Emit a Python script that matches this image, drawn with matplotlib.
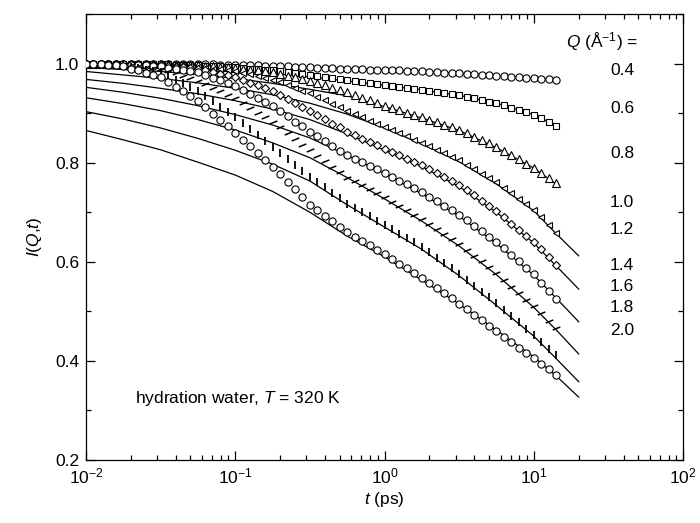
import matplotlib
matplotlib.use("Agg")
import matplotlib.pyplot as plt
import numpy as np
from matplotlib.ticker import LogLocator, MultipleLocator, NullFormatter

plt.rcParams['font.family'] = ['Liberation Sans', 'DejaVu Sans']
plt.rcParams['mathtext.fontset'] = 'custom'
plt.rcParams['mathtext.rm'] = 'Liberation Sans'
plt.rcParams['mathtext.it'] = 'Liberation Sans:italic'

Q_labels = ["0.4", "0.6", "0.8", "1.0", "1.2", "1.4", "1.6", "1.8", "2.0"]

# time points of the simulated data (ps)
t_data = [0.0100, 0.0112, 0.0126, 0.0141, 0.0158, 0.0178, 0.0200, 0.0224, 0.0251, 0.0282,
          0.0316, 0.0355, 0.0398, 0.0447, 0.0501, 0.0562, 0.0631, 0.0708, 0.0794, 0.0891,
          0.100, 0.112, 0.126, 0.141, 0.158, 0.178, 0.200, 0.224, 0.251, 0.282,
          0.316, 0.355, 0.398, 0.447, 0.501, 0.562, 0.631, 0.708, 0.794, 0.891,
          1.00, 1.12, 1.26, 1.41, 1.58, 1.78, 2.00, 2.24, 2.51, 2.82,
          3.16, 3.55, 3.98, 4.47, 5.01, 5.62, 6.31, 7.08, 7.94, 8.91,
          10.0, 11.2, 12.6, 14.1]

d04 = [1.0, 1.0, 1.0, 1.0, 1.0, 1.0, 1.0, 1.0, 1.0, 1.0,
       1.0, 1.0, 1.0, .999, .999, .999, .999, .999, .998, .998,
       .998, .998, .997, .997, .996, .996, .995, .995, .994, .993,
       .993, .992, .992, .991, .990, .990, .989, .989, .988, .987,
       .987, .986, .986, .985, .985, .984, .983, .982, .981, .981,
       .980, .979, .978, .977, .976, .975, .974, .973, .972, .971,
       .970, .969, .968, .966]
d06 = [1.0, 1.0, 1.0, 1.0, 1.0, 1.0, 1.0, 1.0, .999, .999,
       .999, .999, .998, .998, .997, .997, .996, .995, .995, .994,
       .993, .992, .990, .989, .987, .986, .984, .982, .980, .979,
       .977, .975, .973, .970, .968, .966, .964, .962, .960, .958,
       .956, .954, .952, .951, .949, .947, .945, .943, .940, .938,
       .936, .933, .930, .927, .923, .920, .916, .911, .906, .902,
       .897, .890, .883, .875]
d08 = [1.0, 1.0, 1.0, 1.0, 1.0, 1.0, 1.0, 1.0, .999, .999,
       .999, .999, .998, .998, .997, .997, .996, .995, .994, .993,
       .992, .990, .988, .986, .984, .982, .979, .975, .972, .968,
       .965, .961, .956, .951, .947, .942, .937, .931, .926, .920,
       .915, .910, .906, .901, .897, .892, .887, .882, .876, .871,
       .866, .859, .852, .846, .839, .832, .824, .815, .807, .798,
       .790, .780, .769, .758]
d10 = [1.0, 1.0, 1.0, 1.0, 1.0, 1.0, 1.0, .999, .999, .998,
       .998, .997, .996, .996, .995, .994, .992, .990, .989, .987,
       .985, .981, .978, .974, .971, .967, .962, .956, .951, .945,
       .940, .933, .926, .919, .912, .905, .898, .892, .885, .879,
       .872, .866, .859, .853, .846, .840, .833, .826, .819, .812,
       .805, .796, .787, .778, .769, .760, .749, .738, .727, .716,
       .705, .690, .674, .659]
d12 = [1.0, 1.0, 1.0, 1.0, .999, .999, .999, .998, .998, .997,
       .997, .996, .994, .993, .991, .990, .986, .983, .979, .976,
       .972, .967, .961, .956, .950, .945, .937, .929, .921, .913,
       .905, .896, .888, .879, .871, .862, .855, .848, .842, .835,
       .828, .821, .815, .808, .802, .795, .787, .779, .771, .763,
       .755, .744, .734, .723, .713, .702, .690, .677, .665, .652,
       .640, .625, .609, .594]
d14 = [1.0, 1.0, 1.0, .999, .999, .999, .998, .997, .997, .996,
       .995, .992, .990, .987, .985, .982, .977, .971, .966, .960,
       .955, .947, .939, .931, .923, .915, .904, .894, .883, .873,
       .862, .853, .843, .834, .824, .815, .808, .801, .794, .787,
       .780, .772, .764, .756, .748, .740, .731, .722, .713, .704,
       .695, .684, .673, .662, .651, .640, .627, .614, .601, .588,
       .575, .558, .542, .525]
d16 = [1.0, 1.0, 1.0, .999, .999, .999, .997, .995, .994, .992,
       .990, .985, .980, .975, .970, .965, .958, .951, .944, .937,
       .930, .920, .911, .901, .892, .882, .871, .859, .848, .836,
       .825, .814, .803, .792, .781, .770, .762, .754, .746, .738,
       .730, .721, .712, .704, .695, .686, .676, .666, .656, .646,
       .636, .624, .612, .601, .589, .577, .564, .550, .537, .523,
       .510, .496, .481, .467]
d18 = [1.0, 1.0, .999, .999, .998, .997, .994, .991, .988, .985,
       .982, .975, .967, .960, .952, .945, .934, .924, .913, .903,
       .892, .880, .868, .856, .844, .832, .820, .808, .796, .784,
       .772, .761, .750, .739, .728, .717, .709, .700, .692, .683,
       .675, .666, .657, .648, .639, .630, .619, .608, .598, .587,
       .576, .564, .552, .540, .528, .516, .503, .490, .478, .465,
       .452, .439, .425, .412]
d20 = [1.0, 1.0, .999, .998, .997, .995, .990, .986, .981, .977,
       .972, .963, .953, .944, .934, .925, .912, .899, .886, .873,
       .860, .846, .833, .819, .806, .792, .777, .761, .746, .730,
       .715, .704, .693, .682, .671, .660, .651, .642, .633, .624,
       .615, .606, .596, .587, .577, .568, .557, .547, .536, .526,
       .515, .504, .493, .482, .471, .460, .449, .438, .427, .416,
       .405, .394, .383, .372]

# model curves (solid lines)
t_line = [0.01, 0.0178, 0.0316, 0.0562, 0.1, 0.178, 0.316, 0.562, 1.0, 1.78, 3.16, 5.62,
          10.0, 14.1, 20.0]
l04 = [1.0, .9995, .999, .998, .997, .995, .993, .990, .987, .984, .980, .975, .970, .966]
l06 = [.997, .995, .993, .990, .985, .980, .973, .965, .956, .947, .936, .920, .897, .875]
l08 = [.992, .988, .984, .978, .970, .960, .948, .935, .913, .890, .865, .830, .789, .757]
l10 = [.984, .977, .970, .961, .950, .937, .920, .898, .870, .838, .802, .757, .703, .657, .612]
l12 = [.968, .960, .950, .939, .925, .908, .887, .858, .825, .792, .752, .700, .638, .592, .545]
l14 = [.952, .942, .930, .915, .897, .876, .850, .815, .778, .737, .692, .637, .573, .527, .479]
l16 = [.931, .919, .905, .887, .866, .840, .810, .770, .727, .682, .632, .574, .508, .463, .414]
l18 = [.903, .888, .870, .849, .825, .797, .763, .715, .670, .625, .572, .512, .450, .405, .358]
l20 = [.865, .846, .826, .801, .775, .742, .700, .652, .610, .563, .515, .462, .408, .370, .327]

data = [d04, d06, d08, d10, d12, d14, d16, d18, d20]
lines = [l04, l06, l08, l10, l12, l14, l16, l18, l20]
dash = [(-1.0, -0.4), (1.0, 0.4)]
markers = ['o', 's', '^', '<', 'D', 'o', dash, '|', 'o']
msizes = [5.2, 4.6, 5.2, 4.8, 4.2, 5.2, 5.5, 5.5, 5.2]
mews = [0.8, 0.8, 0.8, 0.8, 0.8, 0.8, 1.1, 1.3, 0.8]

fig = plt.figure(figsize=(7.0, 5.23), dpi=100)
ax = fig.add_axes([86/700, 63/523, 597/700, 446/523])

for d, l, m, ms, mw in zip(data, lines, markers, msizes, mews):
    ax.plot(t_line[:len(l)], l, color='black', lw=0.9, zorder=2)
    ax.plot(t_data, d, linestyle='none', marker=m, ms=ms, mfc='white', mec='black',
            mew=mw, zorder=3)

ax.set_xscale('log')
ax.set_xlim(1e-2, 1e2)
ax.set_ylim(0.2, 1.1)
ax.set_yticks([0.2, 0.4, 0.6, 0.8, 1.0])
ax.yaxis.set_minor_locator(MultipleLocator(0.1))
ax.xaxis.set_major_locator(LogLocator(base=10, numticks=10))
ax.xaxis.set_minor_locator(LogLocator(base=10, subs=np.arange(2, 10), numticks=10))
ax.xaxis.set_minor_formatter(NullFormatter())
ax.tick_params(which='both', direction='in', top=True, right=True, labelsize=12.5, width=0.9)
ax.tick_params(which='major', length=6.5, pad=5)
ax.tick_params(which='minor', length=3.5)
for s in ax.spines.values():
    s.set_linewidth(0.9)

ax.set_xlabel(r'$\mathit{t}$ (ps)', fontsize=12.5, labelpad=2)
ax.set_ylabel(r'$\mathit{I}$($\mathit{Q}$,$\mathit{t}$)', fontsize=12.5, labelpad=8)

ax.text(0.082, 0.139, r'hydration water, $\mathit{T}$ = 320 K', transform=ax.transAxes,
        fontsize=12.5, va='center', ha='left')
ax.text(0.864, 0.937, r'$\mathit{Q}$ (Å$^{-1}$) =', transform=ax.transAxes,
        fontsize=12.5, va='center', ha='center')
label_y = [0.874, 0.789, 0.688, 0.578, 0.516, 0.437, 0.388, 0.341, 0.291]
for lab, yy in zip(Q_labels, label_y):
    ax.text(0.898, yy, lab, transform=ax.transAxes, fontsize=12.5, va='center', ha='center')

fig.savefig('out.png', dpi=100)
